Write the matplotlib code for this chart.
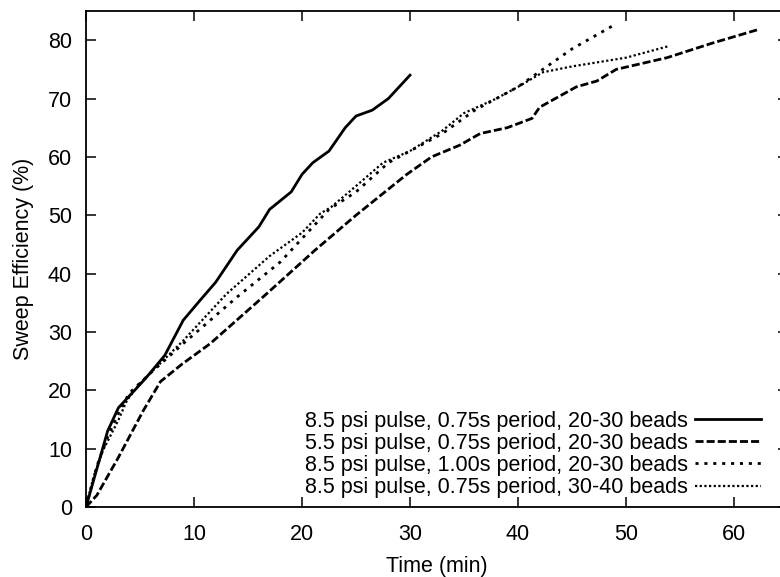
import numpy as np
import matplotlib.pyplot as plt

plt.rcParams['font.family'] = ['Liberation Sans', 'DejaVu Sans']

# 8.5 psi pulse, 0.75s period, 20-30 beads
t1 = [0, 2, 3, 5.5, 7.3, 9, 10.6, 12, 14, 16, 17, 19, 20, 21, 22.5, 24, 25, 26.5, 28, 30]
e1 = [0, 13, 17, 22, 26, 32, 35.5, 38.5, 44, 48, 51, 54, 57, 59, 61, 65, 67, 68, 70, 74]

# 5.5 psi pulse, 0.75s period, 20-30 beads
t2 = [0, 1, 3, 5.3, 6.9, 8.9, 11.5, 16.7, 21.2, 25, 29.7, 32, 34.6, 36.5, 39, 41.3, 42,
      45.4, 47.3, 49.1, 53.8, 58, 62.2]
e2 = [0, 2, 8.5, 16.5, 21.5, 24.5, 28, 36.5, 44, 50, 57, 60, 62, 64, 65, 66.6, 68.5,
      72, 73, 75, 77, 79.5, 81.8]

# 8.5 psi pulse, 1.00s period, 20-30 beads
t3 = [0, 1, 2, 3, 4, 6, 9, 14, 18, 20, 22.5, 25, 28, 30, 33, 36, 38, 40, 42.3, 45, 49]
e3 = [0, 7, 12, 16, 19.5, 23, 28, 36, 42, 46, 51, 54, 59, 61, 64, 68, 70, 72, 75, 78.5, 82.7]

# 8.5 psi pulse, 0.75s period, 30-40 beads
t4 = [0, 0.7, 1.6, 3, 3.8, 5, 9, 13, 17, 20, 21.7, 22.7, 25, 27.5, 30, 33, 35, 38, 40,
      42.3, 45, 50, 54]
e4 = [0, 5.2, 9.8, 14.9, 18.3, 21.2, 28.5, 36.5, 43, 47, 50.3, 51.4, 55, 59, 61, 64.5,
      67.5, 70, 72, 74.5, 75.5, 77, 79]

labels = ['8.5 psi pulse, 0.75s period, 20-30 beads',
          '5.5 psi pulse, 0.75s period, 20-30 beads',
          '8.5 psi pulse, 1.00s period, 20-30 beads',
          '8.5 psi pulse, 0.75s period, 30-40 beads']

fs = 15.5

fig = plt.figure(figsize=(7.8, 5.77), dpi=100)
ax = fig.add_axes([86/780, 70/577, 702/780, 496/577])

ax.plot(t1, e1, color='black', lw=2.0, linestyle='-', label=labels[0])
ax.plot(t2, e2, color='black', lw=2.0, linestyle=(0, (2.9, 1.1)), label=labels[1])
ax.plot(t3, e3, color='black', lw=2.0, linestyle=(0, (1.1, 2.1)), label=labels[2])
ax.plot(t4, e4, color='black', lw=1.6, linestyle=(0, (1.0, 1.1)), label=labels[3])

ax.set_xlim(0, 65)
ax.set_ylim(0, 85)
ax.set_xticks(np.arange(0, 61, 10))
ax.set_yticks(np.arange(0, 81, 10))
ax.tick_params(direction='in', length=7, width=1.1, top=True, right=True, labelsize=fs)
ax.tick_params(axis='x', pad=12)
ax.tick_params(axis='y', pad=10)
for s in ax.spines.values():
    s.set_linewidth(1.3)

ax.set_xlabel('Time (min)', fontsize=fs, labelpad=8)
ax.set_ylabel('Sweep Efficiency (%)', fontsize=fs, labelpad=10)

leg = ax.legend(loc='lower right', bbox_to_anchor=(0.9615, 0.018), frameon=False,
                fontsize=fs, markerfirst=False, handlelength=3.07, handletextpad=0.32,
                labelspacing=0.05, borderaxespad=0, borderpad=0)

fig.savefig('out.png', dpi=100)
